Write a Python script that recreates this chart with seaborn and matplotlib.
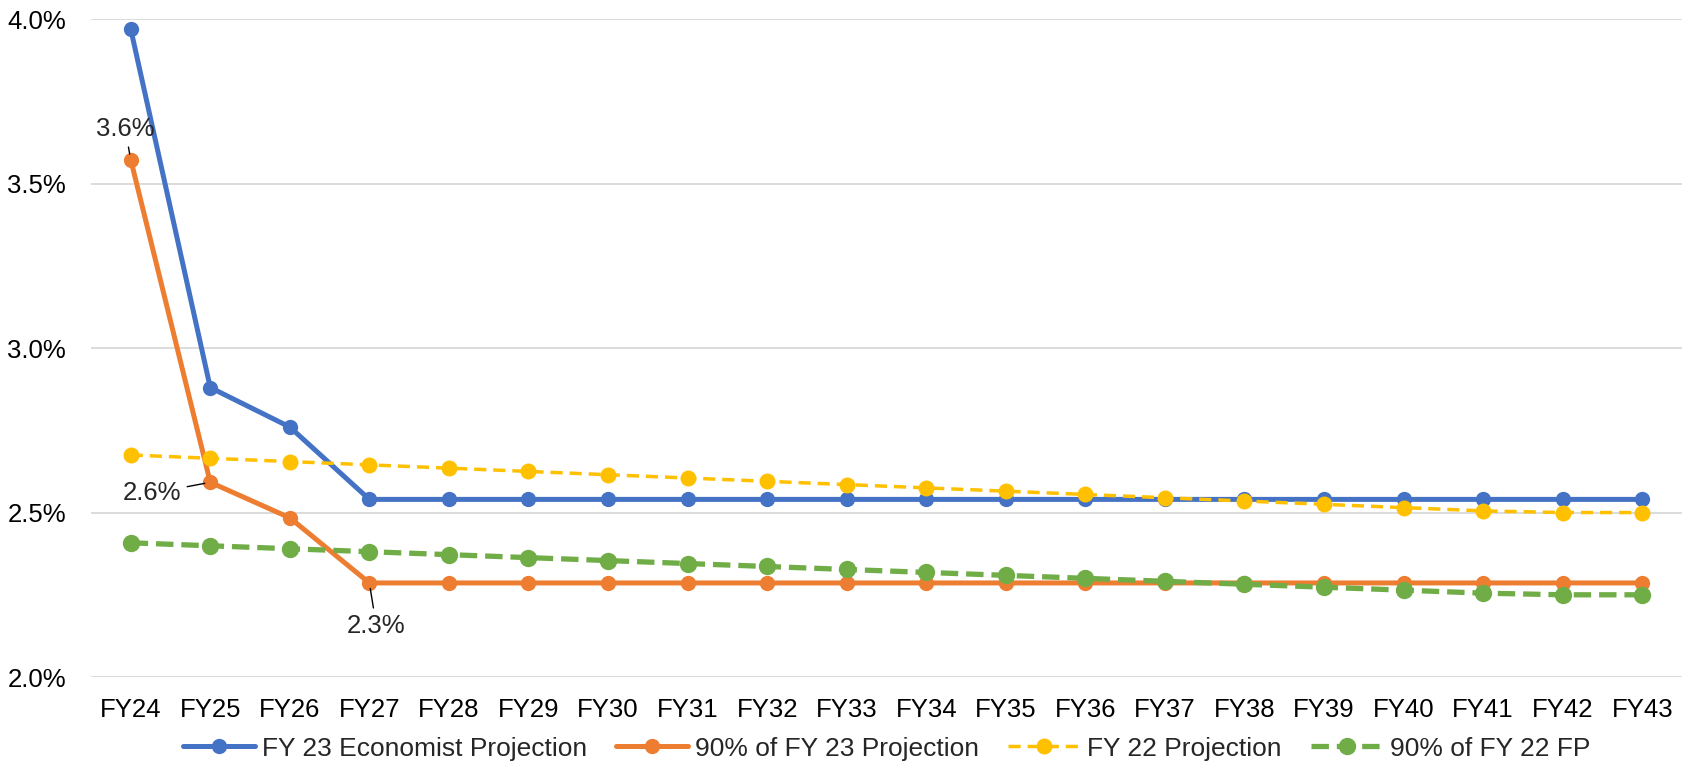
import numpy as np
import pandas as pd
import seaborn as sns
import matplotlib.pyplot as plt
from matplotlib.ticker import PercentFormatter

years = ["FY24", "FY25", "FY26", "FY27", "FY28", "FY29", "FY30", "FY31", "FY32", "FY33",
         "FY34", "FY35", "FY36", "FY37", "FY38", "FY39", "FY40", "FY41", "FY42", "FY43"]

fy23_econ = [3.97, 2.88, 2.76, 2.54, 2.54, 2.54, 2.54, 2.54, 2.54, 2.54,
             2.54, 2.54, 2.54, 2.54, 2.54, 2.54, 2.54, 2.54, 2.54, 2.54]
fy23_90 = [3.573, 2.592, 2.484, 2.286, 2.286, 2.286, 2.286, 2.286, 2.286, 2.286,
           2.286, 2.286, 2.286, 2.286, 2.286, 2.286, 2.286, 2.286, 2.286, 2.286]
fy22_proj = [2.675, 2.665, 2.655, 2.645, 2.635, 2.625, 2.615, 2.605, 2.595, 2.585,
             2.575, 2.565, 2.555, 2.545, 2.535, 2.525, 2.515, 2.505, 2.50, 2.50]
fy22_90 = [2.408, 2.399, 2.390, 2.381, 2.372, 2.363, 2.354, 2.345, 2.336, 2.327,
           2.318, 2.309, 2.300, 2.291, 2.282, 2.273, 2.264, 2.255, 2.25, 2.25]

sns.set_style("white")
plt.rcParams['font.family'] = ['Liberation Sans', 'DejaVu Sans']

fig = plt.figure(figsize=(16.84, 7.65), dpi=100)
ax = fig.add_axes([0.054, 0.115, 0.9448, 0.86])

pos = np.arange(len(years))
fs = 18.5

sns.lineplot(x=pos, y=fy23_econ, ax=ax, color="#4472C4", linewidth=3.6, marker="o",
             markersize=11, markeredgewidth=0, label="FY 23 Economist Projection", zorder=3)
sns.lineplot(x=pos, y=fy23_90, ax=ax, color="#ED7D31", linewidth=3.6, marker="o",
             markersize=11, markeredgewidth=0, label="90% of FY 23 Projection", zorder=4)
sns.lineplot(x=pos, y=fy22_proj, ax=ax, color="#FFC000", linewidth=2.5, marker="o",
             markersize=11.5, markeredgewidth=0, linestyle=(0, (3.5, 2)),
             label="FY 22 Projection", zorder=5)
sns.lineplot(x=pos, y=fy22_90, ax=ax, color="#70AD47", linewidth=3.8, marker="o",
             markersize=12.5, markeredgewidth=0, linestyle=(0, (3.3, 1.5)),
             label="90% of FY 22 FP", zorder=6)

# data labels on the 90% series
arrow = dict(arrowstyle="-", color="black", lw=1, shrinkA=2, shrinkB=4)
ax.annotate("3.6%", (0, fy23_90[0]), xytext=(-4, 22), textcoords="offset points",
            ha="center", va="center", fontsize=fs, arrowprops=arrow, zorder=7)
ax.annotate("2.6%", (1, fy23_90[1]), xytext=(-42, -8), textcoords="offset points",
            ha="center", va="center", fontsize=fs, arrowprops=arrow, zorder=7)
ax.annotate("2.3%", (3, fy23_90[3]), xytext=(5, -31), textcoords="offset points",
            ha="center", va="center", fontsize=fs, arrowprops=arrow, zorder=7)

ax.set_xlim(-0.5, len(years) - 0.5)
ax.set_ylim(2.0, 4.0)
ax.set_yticks([2.0, 2.5, 3.0, 3.5, 4.0])
ax.yaxis.set_major_formatter(PercentFormatter(decimals=1))
ax.set_xticks(pos)
ax.set_xticklabels(years)
ax.tick_params(axis="both", length=0, labelsize=fs, colors="black")
ax.tick_params(axis="x", pad=15)
ax.tick_params(axis="y", pad=18)
ax.grid(axis="y", color="#D9D9D9", linewidth=1.3)
ax.set_axisbelow(True)
for s in ax.spines.values():
    s.set_visible(False)

ax.legend(loc="center", bbox_to_anchor=(0.5, -0.109), ncol=4, frameon=False,
          fontsize=19, handlelength=2.75, columnspacing=1.1, handletextpad=0.25)

plt.savefig("out.png", dpi=100)
